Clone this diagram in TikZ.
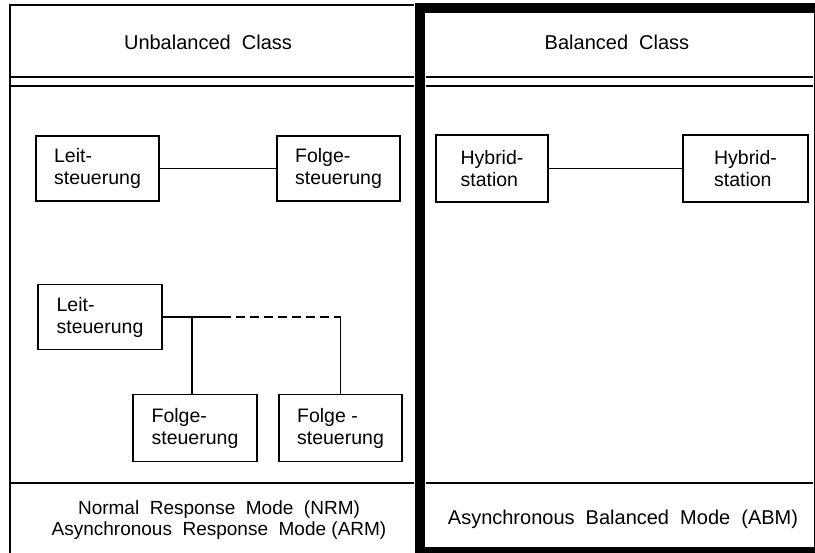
\documentclass[tikz,border=0pt]{standalone}
\usepackage{fontspec}
\setmainfont{Liberation Sans}
\begin{document}
\begin{tikzpicture}[x=1pt,y=-1pt,
  thin line/.style={line width=1.1pt},
  station/.style={draw,line width=1.1pt,align=left,inner sep=0pt,
    font=\fontsize{19.5}{22}\selectfont},
  label/.style={font=\fontsize{20}{22}\selectfont,align=center,inner sep=0pt},
  link/.style={line width=1.1pt}]
\useasboundingbox (0,0) rectangle (815,553);
\fill[white] (0,0) rectangle (815,553);

% unbalanced panel: thin frame, open at the bottom edge
\draw[thin line] (10,560) -- (10,5) -- (414,5);
\draw[thin line] (10,77) -- (414,77);
\draw[thin line] (10,86) -- (414,86);
\draw[thin line] (10,483) -- (414,483);

% balanced panel: heavy frame
\draw[thin line] (426,77) -- (813,77);
\draw[thin line] (426,86) -- (813,86);
\draw[thin line] (426,483) -- (813,483);
\draw[line width=10pt] (420,8.5) rectangle (819,552);

% headings
\node[label] (hu) at (208,42) {Unbalanced\ \ Class};
\node[label] (hb) at (617,42) {Balanced\ \ Class};

% point-to-point, unbalanced
\node[station,minimum width=123pt,minimum height=65pt] (l1) at (97.5,168.5) {Leit-\\steuerung};
\node[station,minimum width=123pt,minimum height=65pt] (f1) at (338.5,168.5) {Folge-\\steuerung};
\draw[link] (l1.east) -- (f1.west);

% multipoint, unbalanced
\node[station,minimum width=124pt,minimum height=65pt] (l2) at (100,317) {Leit-\\steuerung};
\node[station,minimum width=124pt,minimum height=67pt] (f2) at (195,428) {Folge-\\steuerung};
\node[station,minimum width=123pt,minimum height=67pt] (f3) at (340.5,428) {Folge -\\steuerung};
\coordinate (j1) at (192,317);
\coordinate (ja) at (222,317);
\coordinate (j2) at (f3.north |- l2.east);
\draw[link] (l2.east) -- (ja);
\draw[link] (j1) -- (j1 |- f2.north);
\draw[link,dash pattern=on 9pt off 5pt] (ja) -- (j2);
\draw[link] (j2) -- (f3.north);

% point-to-point, balanced
\node[station,minimum width=112pt,minimum height=67pt] (h1) at (492,168.5) {Hybrid-\\station};
\node[station,minimum width=125pt,minimum height=67pt] (h2) at (745.5,168.5) {Hybrid-\\station};
\draw[link] (h1.east) -- (h2.west);

% modes
\node[label,font=\fontsize{19}{21}\selectfont] (mu) at (219,520.5) {Normal\ \ Response\ \ Mode\ \ (NRM)\\Asynchronous\ \ Response\ \ Mode (ARM)};
\node[label] (mb) at (623,519) {Asynchronous\ \ Balanced\ \ Mode\ \ (ABM)};
\end{tikzpicture}
\end{document}
